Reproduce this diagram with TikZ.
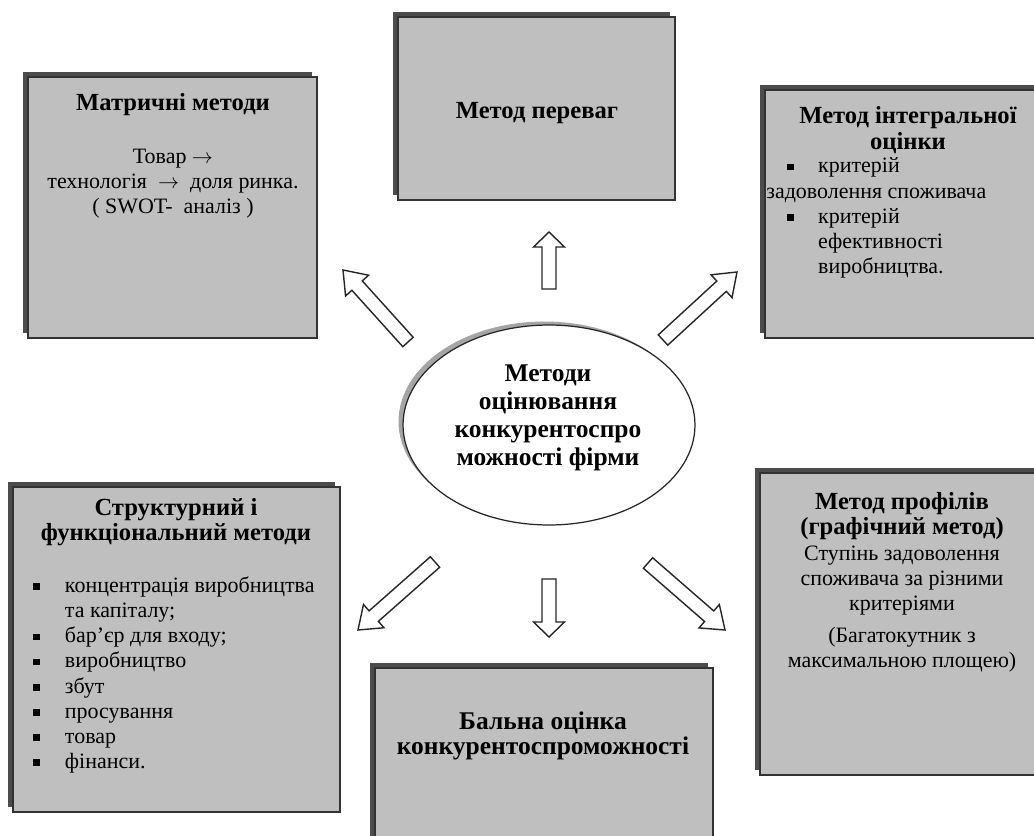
\documentclass[tikz,border=0pt]{standalone}
\usepackage{fontspec}
\setmainfont{Liberation Serif}
\usetikzlibrary{shapes.geometric,shadows,calc,positioning}

\newcommand\sqbul{\rule[0.25ex]{0.3em}{0.3em}}
\newcommand\itm{\makebox[18pt][l]{\sqbul}}
\newcommand\bigarrow[3]{%
  \coordinate (#1#2h) at ($(#2)!#3!(#1)$);
  \draw[blockarrow] ($(#1)!0.14cm!90:(#2)$) -- ($(#1#2h)!0.14cm!90:(#2)$)
    -- ($(#1#2h)!0.31cm!90:(#2)$) -- (#2) -- ($(#1#2h)!0.31cm!-90:(#2)$)
    -- ($(#1#2h)!0.14cm!-90:(#2)$) -- ($(#1)!0.14cm!-90:(#2)$) -- cycle;}

\begin{document}
\begin{tikzpicture}[
    x=0.02cm, y=-0.02cm,
    methodbox/.style={rectangle, draw=black!80, line width=0.7pt, fill=black!25,
        drop shadow={shadow xshift=-0.1cm, shadow yshift=0.1cm, fill=black!70, opacity=1}},
    oval/.style={ellipse, draw=black!85, line width=0.7pt, fill=white, minimum width=5.84cm, minimum height=4cm,
        drop shadow={shadow xshift=-0.09cm, shadow yshift=0.07cm, fill=black!50, opacity=0.7}},
    titletext/.style={align=center, inner sep=0pt, font=\fontsize{14}{14.4}\selectfont\bfseries},
    bodytext/.style={align=center, inner sep=0pt, font=\fontsize{12.5}{14.2}\selectfont},
    listtext/.style={align=left, inner sep=0pt, font=\fontsize{12.5}{14.3}\selectfont},
    blockarrow/.style={draw=black!85, line width=0.8pt, fill=white, line join=miter}
]
\fill[white] (0,0) rectangle (1034,835);
\useasboundingbox (0,0) rectangle (1034,835);

\node[methodbox, minimum width=5.78cm, minimum height=5.22cm] (matr) at (172.5,207.5) {};
\node[methodbox, minimum width=5.54cm, minimum height=3.66cm] (perev) at (536.5,108.5) {};
\node[methodbox, minimum width=5.5cm, minimum height=4.96cm] (integ) at (902.5,214) {};
\node[methodbox, minimum width=6.54cm, minimum height=6.5cm] (struct) at (176.5,649.5) {};
\node[methodbox, minimum width=6.76cm, minimum height=3.54cm] (bal) at (544,756.5) {};
\node[methodbox, minimum width=5.6cm, minimum height=6.04cm] (prof) at (900,624) {};

\node[oval] (ocin) at (549,425) {};
\node[align=center, inner sep=0pt, font=\fontsize{14.5}{16}\selectfont\bfseries] (ocintxt) at (548,418)
    {Методи\\ оцінювання\\ конкурентоспро\\ можності фірми};

\node[titletext] (matrtitle) at (173,105) {Матричні методи};
\node[bodytext] (matrbody) at (173,184) {Товар $\rightarrow$\\ технологія \ $\rightarrow$ \ доля ринка.\\ ( SWOT- \ аналіз )};

\node[titletext] (perevtitle) at (537,113) {Метод переваг};

\node[titletext] (integtitle) at (908,130) {Метод інтегральної\\ оцінки};
\node[listtext, anchor=west] (integlist) at (766,218) {%
    \hspace*{12pt}\makebox[17.5pt][l]{\sqbul}критерій\\
    задоволення споживача\\
    \hspace*{12pt}\makebox[17.5pt][l]{\sqbul}критерій\\
    \hspace*{29.5pt}ефективності\\
    \hspace*{29.5pt}виробництва.};

\node[titletext] (structtitle) at (176,522) {Структурний і\\ функціональний методи};
\node[listtext, anchor=west] (structlist) at (33,675) {%
    \itm концентрація виробництва\\
    \hspace*{18pt}та капіталу;\\
    \itm бар’єр для входу;\\
    \itm виробництво\\
    \itm збут\\
    \itm просування\\
    \itm товар\\
    \itm фінанси.};

\node[align=center, inner sep=0pt, font=\fontsize{14.5}{14.4}\selectfont\bfseries] (baltxt) at (543,736)
    {Бальна оцінка\\ конкурентоспроможності};

\node[titletext] (proftitle) at (902,516) {Метод профілів\\ (графічний метод)};
\node[bodytext] (profbody) at (902,609) {Ступінь задоволення\\ споживача за різними\\ критеріями\\[4pt]
    (Багатокутник з\\ максимальною площею)};

\coordinate (upA) at (549,289);   \coordinate (upB) at (549,232);
\coordinate (ulA) at (408,342);   \coordinate (ulB) at (343,270);
\coordinate (urA) at (663,340);   \coordinate (urB) at (737,272);
\coordinate (llA) at (435,562);   \coordinate (llB) at (358,630);
\coordinate (dnA) at (549,579);   \coordinate (dnB) at (549,637);
\coordinate (lrA) at (648,563);   \coordinate (lrB) at (725,630);

\bigarrow{upA}{upB}{0.3cm}
\bigarrow{ulA}{ulB}{0.42cm}
\bigarrow{urA}{urB}{0.42cm}
\bigarrow{llA}{llB}{0.42cm}
\bigarrow{dnA}{dnB}{0.3cm}
\bigarrow{lrA}{lrB}{0.42cm}

\end{tikzpicture}
\end{document}
